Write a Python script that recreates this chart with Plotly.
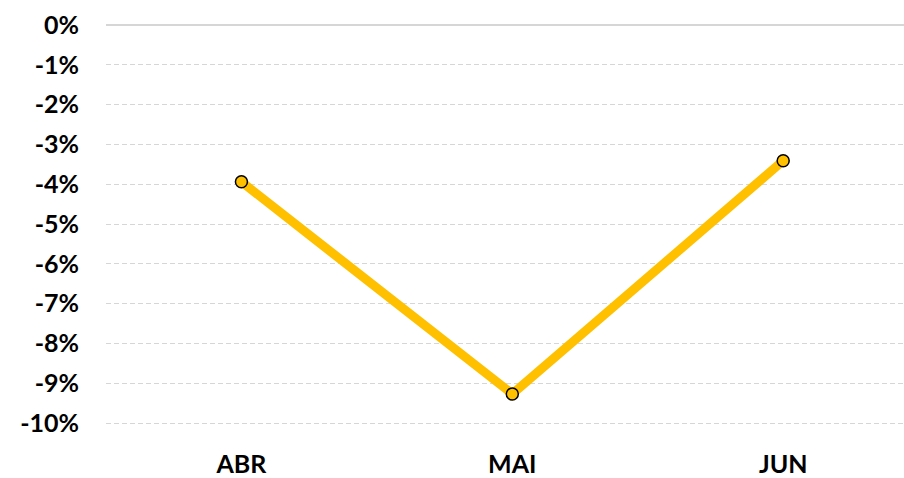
import plotly.graph_objects as go

months = ["ABR", "MAI", "JUN"]
values = [-3.94, -9.27, -3.41]
y_ticks = list(range(-10, 1))
y_labels = [f"{v}%" for v in y_ticks]

FONT = "Lato"

fig = go.Figure()
fig.add_trace(go.Scatter(
    x=months, y=values, mode="lines+markers",
    line=dict(color="#FFC000", width=9),
    marker=dict(size=12, color="#FFC000", line=dict(color="#000000", width=1.5)),
    showlegend=False,
))

fig.update_layout(
    width=904, height=478,
    margin=dict(l=106, r=0, t=21, b=49),
    paper_bgcolor="white", plot_bgcolor="white",
    font=dict(family=FONT, size=25, color="#000000"),
)
fig.update_xaxes(
    type="category", range=[-0.5, 2.446],
    showgrid=False, showline=False, zeroline=False,
    ticks="", ticklabelstandoff=20,
    tickfont=dict(family=FONT, size=25, color="#000000", weight="bold"),
)
fig.update_yaxes(
    range=[-10.1, 0.1], tickvals=y_ticks, ticktext=y_labels,
    showgrid=True, gridcolor="#D6D6D6", griddash="5px,3px", gridwidth=1.3,
    zeroline=True, zerolinecolor="#D6D6D6", zerolinewidth=1.5,
    showline=False, ticks="", ticklabelstandoff=26,
    tickfont=dict(family=FONT, size=25, color="#000000", weight="bold"),
)

fig.write_html(
    "out.html",
    config={"displayModeBar": False},
    post_script="document.body.style.margin='0';document.body.style.overflow='hidden';",
)
